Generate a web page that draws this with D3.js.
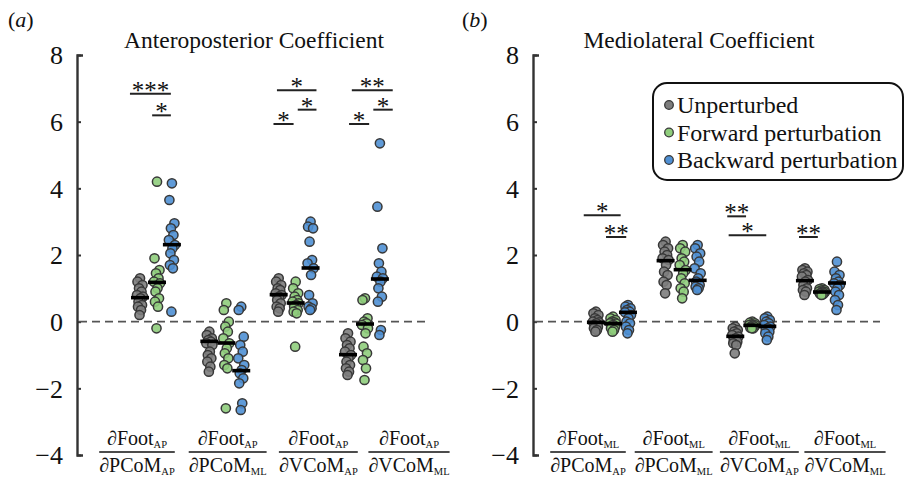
<!DOCTYPE html>
<html><head><meta charset="utf-8">
<script src="https://cdn.jsdelivr.net/npm/d3@7"></script>
<style>
body{margin:0;background:#fff}
svg{display:block}
svg text{font-family:"Liberation Serif","Times New Roman",serif;fill:#111}
</style>
</head><body>
<svg id="chart" width="908" height="478"></svg>
<script>
// ---------- data ----------
const seriesNames = ["Unperturbed", "Forward perturbation", "Backward perturbation"];
const seriesColors = ["#7d7d7d", "#8fcd7c", "#4f90d4"];
const yTicks = [-4, -2, 0, 2, 4, 6, 8];

const leftTitle = "Anteroposterior Coefficient";
const rightTitle = "Mediolateral Coefficient";
// [numerator, numerator subscript, denominator, denominator subscript]
const leftCategories = [["∂Foot","AP","∂PCoM","AP"],["∂Foot","AP","∂PCoM","ML"],["∂Foot","AP","∂VCoM","AP"],["∂Foot","AP","∂VCoM","ML"]];
const rightCategories = [["∂Foot","ML","∂PCoM","AP"],["∂Foot","ML","∂PCoM","ML"],["∂Foot","ML","∂VCoM","AP"],["∂Foot","ML","∂VCoM","ML"]];

const leftUnperturbed = [
  [1.3,1.2,1.1,1.0,0.9,0.8,0.75,0.7,0.6,0.5,0.45,0.35,0.2],
  [-0.3,-0.4,-0.5,-0.55,-0.6,-0.65,-0.7,-0.9,-1.0,-1.1,-1.2,-1.35,-1.5],
  [1.3,1.2,1.1,1.0,0.95,0.85,0.8,0.75,0.65,0.55,0.45,0.4,0.3],
  [-0.35,-0.5,-0.6,-0.7,-0.8,-0.9,-1.0,-1.1,-1.2,-1.3,-1.4,-1.5,-1.6]];
const leftForward = [
  [4.2,1.9,1.55,1.45,1.3,1.2,1.15,1.0,0.9,0.7,0.6,0.45,-0.2],
  [0.55,0.35,0.0,-0.15,-0.3,-0.5,-0.65,-0.8,-0.95,-1.1,-1.3,-1.4,-2.6],
  [1.2,1.0,0.85,0.75,0.65,0.6,0.55,0.5,0.45,0.35,0.3,0.25,-0.75],
  [0.7,0.65,0.1,0.0,-0.05,-0.1,-0.2,-0.35,-0.75,-0.95,-1.15,-1.4,-1.75]];
const leftBackward = [
  [4.15,3.65,2.95,2.8,2.6,2.45,2.3,2.2,2.05,1.85,1.7,1.6,0.3],
  [0.45,0.35,-0.45,-0.7,-0.9,-1.1,-1.3,-1.45,-1.55,-1.7,-1.85,-2.45,-2.65],
  [3.0,2.85,2.8,2.4,1.85,1.75,1.6,1.4,0.8,0.55,0.45,0.4,0.35],
  [5.35,3.45,2.2,1.75,1.5,1.35,1.3,1.2,1.0,0.75,0.6,-0.25,-0.4]];
const leftMedians = [[0.72,-0.59,0.81,-0.99],[1.18,-0.64,0.56,-0.07],[2.31,-1.47,1.61,1.28]];

const rightUnperturbed = [
  [0.3,0.25,0.2,0.1,0.05,0.0,-0.02,-0.05,-0.1,-0.15,-0.2,-0.25,-0.3],
  [2.4,2.3,2.2,2.1,2.0,1.9,1.85,1.7,1.5,1.4,1.2,1.1,0.85],
  [-0.15,-0.2,-0.25,-0.3,-0.35,-0.4,-0.45,-0.5,-0.55,-0.6,-0.65,-0.7,-0.95],
  [1.6,1.55,1.5,1.45,1.4,1.35,1.25,1.2,1.1,1.0,0.95,0.9,0.8]];
const rightForward = [
  [0.15,0.1,0.05,0.0,-0.02,-0.05,-0.06,-0.1,-0.12,-0.15,-0.2,-0.25,-0.3],
  [2.3,2.2,2.1,1.9,1.8,1.7,1.55,1.45,1.3,1.15,1.0,0.9,0.7],
  [0.0,-0.03,-0.05,-0.08,-0.1,-0.1,-0.11,-0.12,-0.15,-0.15,-0.18,-0.2,-0.2],
  [1.0,0.98,0.95,0.93,0.9,0.9,0.89,0.88,0.86,0.85,0.84,0.82,0.8]];
const rightBackward = [
  [0.5,0.45,0.4,0.35,0.3,0.28,0.2,0.1,0.0,-0.05,-0.15,-0.25,-0.35],
  [2.3,2.2,2.05,1.95,1.8,1.6,1.45,1.3,1.2,1.1,1.05,1.0,0.95],
  [0.15,0.1,0.05,0.0,-0.05,-0.1,-0.15,-0.2,-0.25,-0.3,-0.35,-0.45,-0.55],
  [1.8,1.5,1.4,1.3,1.2,1.15,1.1,1.0,0.9,0.8,0.65,0.5,0.35]];
const rightMedians = [[-0.02,1.83,-0.44,1.23],[-0.06,1.56,-0.11,0.89],[0.28,1.24,-0.14,1.16]];

// significance: [group, from (group units), to (group units), level (y units), label]
const leftSig = [[0,-0.39,0.2,6.84,"***"],[0,-0.07,0.2,6.19,"*"],[2,-0.27,0.3,6.94,"*"],[2,0.03,0.3,6.36,"*"],[2,-0.32,-0.03,5.93,"*"],[3,-0.19,0.4,6.94,"**"],[3,0.12,0.4,6.36,"*"],[3,-0.23,0.06,5.93,"*"]];
const rightSig = [[0,-0.42,0.11,3.19,"*"],[0,-0.1,0.19,2.54,"**"],[2,-0.36,-0.09,3.16,"**"],[2,-0.34,0.2,2.59,"*"],[3,-0.33,-0.06,2.54,"**"]];

// ---------- drawing ----------
const SERIF = '"Liberation Serif","Times New Roman",serif';
const svg = d3.select("#chart");
const y = d3.scaleLinear().domain([-4, 8]).range([455, 55]);
const seriesOffset = [-0.245, 0, 0.215];
const jitter = [0, -2.5, 2.5, -1, 1.5, -3, 3, 0.5, -1.5, 2, -2, 1, -0.5];

const panels = [
  {label:"a", title:leftTitle, titleX:254, axisX:77, endX:425, grp:[157,365], lab:[137,409], labX:8,
   cats:leftCategories, series:[leftUnperturbed,leftForward,leftBackward], med:leftMedians, sig:leftSig},
  {label:"b", title:rightTitle, titleX:699, axisX:533, endX:880, grp:[613,822], lab:[588,845], labX:462,
   cats:rightCategories, series:[rightUnperturbed,rightForward,rightBackward], med:rightMedians, sig:rightSig}
];

panels.forEach(p => {
  const g = svg.append("g");
  const x = d3.scaleLinear().domain([0, 3]).range(p.grp);
  const xl = d3.scalePoint().domain(d3.range(4)).range(p.lab);

  // panel label
  const pl = g.append("text").attr("x", p.labX).attr("y", 27).attr("font-family", SERIF).style("font-size", "22px");
  pl.append("tspan").text("(");
  pl.append("tspan").style("font-style", "italic").text(p.label);
  pl.append("tspan").text(")");

  // title
  g.append("text").attr("x", p.titleX).attr("y", 48).attr("text-anchor", "middle")
    .attr("font-family", SERIF).style("font-size", "23.5px").text(p.title);

  // axis
  const ax = g.append("g").attr("transform", `translate(${p.axisX},0)`)
    .call(d3.axisLeft(y).tickValues(yTicks).tickSizeInner(-4).tickSizeOuter(-6).tickPadding(14)
      .tickFormat(d => d < 0 ? "\u2212" + Math.abs(d) : String(d)));
  ax.attr("font-family", SERIF).attr("font-size", 26);
  ax.select(".domain").attr("stroke", "#333").attr("stroke-width", 2.4);
  ax.selectAll(".tick line").attr("stroke", "#333").attr("stroke-width", 2);
  ax.selectAll(".tick text").attr("font-family", SERIF).style("font-family", SERIF)
    .style("font-size", "26px").attr("fill", "#111").attr("dy", "0.34em");

  // zero line
  g.append("line").attr("x1", p.axisX + 2).attr("x2", p.endX).attr("y1", y(0)).attr("y2", y(0))
    .attr("stroke", "#555").attr("stroke-width", 1.6).attr("stroke-dasharray", "8,5");

  // points
  p.series.forEach((ser, si) => {
    ser.forEach((vals, gi) => {
      g.selectAll(null).data(vals).enter().append("circle")
        .attr("cx", (d, i) => x(gi + seriesOffset[si]) + jitter[i % jitter.length])
        .attr("cy", d => y(d))
        .attr("r", 4.6)
        .attr("fill", seriesColors[si])
        .attr("fill-opacity", 0.9)
        .attr("stroke", "#383838")
        .attr("stroke-width", 1.5);
    });
  });

  // medians
  p.med.forEach((vals, si) => {
    g.selectAll(null).data(vals).enter().append("rect")
      .attr("x", (d, gi) => x(gi + seriesOffset[si]) - 9)
      .attr("y", d => y(d) - 1.8)
      .attr("width", 18).attr("height", 3.6).attr("fill", "#000");
  });

  // significance
  p.sig.forEach(s => {
    const x1 = x(s[0] + s[1]), x2 = x(s[0] + s[2]), yy = y(s[3]);
    g.append("line").attr("x1", x1).attr("x2", x2).attr("y1", yy).attr("y2", yy)
      .attr("stroke", "#222").attr("stroke-width", 2);
    g.append("text").attr("x", (x1 + x2) / 2).attr("y", yy + 5).attr("text-anchor", "middle")
      .attr("font-family", SERIF).style("font-size", "25px").text(s[4]);
  });

  // category labels (fractions)
  p.cats.forEach((c, ci) => {
    const cx = xl(ci);
    const num = g.append("text").attr("x", cx).attr("y", 445).attr("text-anchor", "middle")
      .attr("font-family", SERIF).style("font-size", "20px");
    num.append("tspan").text(c[0]);
    num.append("tspan").attr("dy", 3).style("font-size", "10.5px").text(c[1]);
    const den = g.append("text").attr("x", cx).attr("y", 472).attr("text-anchor", "middle")
      .attr("font-family", SERIF).style("font-size", "20px");
    den.append("tspan").text(c[2]);
    den.append("tspan").attr("dy", 3).style("font-size", "10.5px").text(c[3]);
    const w = Math.max(den.node().getComputedTextLength(), num.node().getComputedTextLength());
    g.append("line").attr("x1", cx - w / 2).attr("x2", cx + w / 2).attr("y1", 452).attr("y2", 452)
      .attr("stroke", "#111").attr("stroke-width", 1.3);
  });
});

// legend
const lg = svg.append("g");
lg.append("rect").attr("x", 653).attr("y", 83).attr("width", 250).attr("height", 97).attr("rx", 14)
  .attr("fill", "#fff").attr("stroke", "#111").attr("stroke-width", 2);
seriesNames.forEach((n, i) => {
  const cy = 105 + i * 27.5;
  lg.append("circle").attr("cx", 669).attr("cy", cy).attr("r", 4.3)
    .attr("fill", seriesColors[i]).attr("stroke", "#383838").attr("stroke-width", 1.3);
  lg.append("text").attr("x", 677).attr("y", cy + 8).attr("font-family", SERIF).style("font-size", "24px").text(n);
});
</script>
</body></html>
